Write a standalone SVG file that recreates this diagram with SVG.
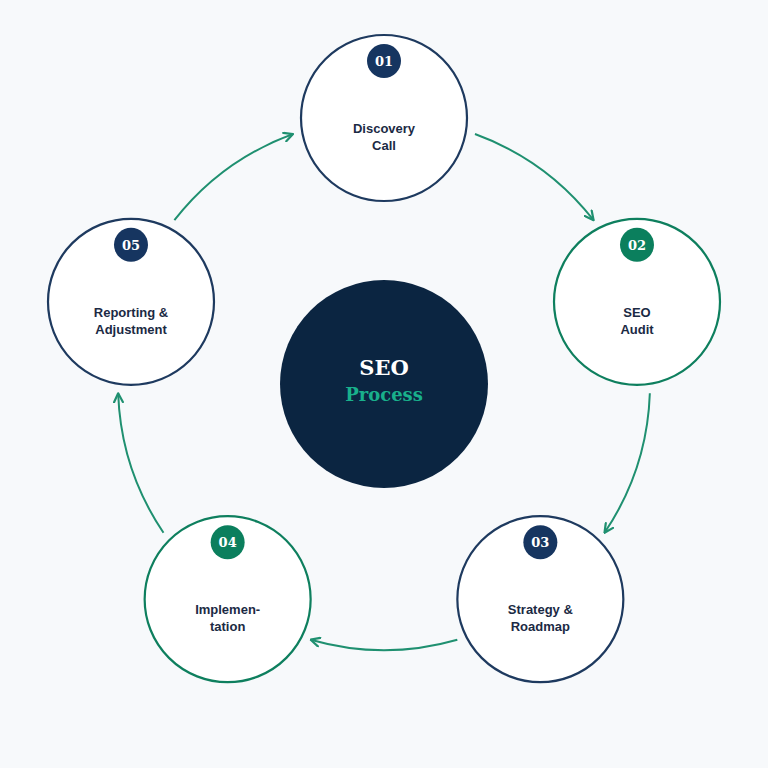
<svg xmlns="http://www.w3.org/2000/svg" width="768" height="768" viewBox="0 0 768 768">
<style>
.node{fill:#ffffff;stroke-width:2.2}
.navy{stroke:#1e3a5f}
.green{stroke:#0e7f5e}
.bnavy{fill:#163560}
.bgreen{fill:#0b7f5d}
.num{font-family:"DejaVu Serif",serif;font-weight:bold;font-size:13px;fill:#ffffff;text-anchor:middle}
.lbl{font-family:"Liberation Sans",Arial,sans-serif;font-weight:bold;font-size:13px;fill:#1b2a44;text-anchor:middle}
.arc{fill:none;stroke:#1f9070;stroke-width:2;marker-end:url(#ah)}
</style>
<defs>
<marker id="ah" viewBox="0 0 10 10" refX="9" refY="5" markerWidth="11" markerHeight="11" markerUnits="userSpaceOnUse" orient="auto">
<path d="M1,1 L9,5 L1,9" fill="none" stroke="#1f9070" stroke-width="2" stroke-linecap="round" stroke-linejoin="round"/>
</marker>
</defs>
<rect width="768" height="768" fill="#f7f9fb"/>
<g id="connectors">
<path class="arc" d="M474.97,134.04 A266,266 0 0 1 593.62,220.23"/>
<path class="arc" d="M649.84,393.28 A266,266 0 0 1 604.52,532.75"/>
<path class="arc" d="M457.32,639.69 A266,266 0 0 1 310.68,639.69"/>
<path class="arc" d="M163.48,532.75 A266,266 0 0 1 118.16,393.28"/>
<path class="arc" d="M174.38,220.23 A266,266 0 0 1 293.03,134.04"/>
</g>
<g id="center">
<circle cx="384" cy="384" r="104" fill="#0b2541"/>
<text x="384" y="375" font-family="DejaVu Serif,serif" font-weight="bold" font-size="21" fill="#ffffff" text-anchor="middle">SEO</text>
<text x="384" y="401" font-family="DejaVu Serif,serif" font-weight="bold" font-size="18" fill="#19b08b" text-anchor="middle">Process</text>
</g>
<g id="node01">
<circle class="node navy" cx="384" cy="118" r="83"/>
<circle class="bnavy" cx="384" cy="61" r="17"/>
<text class="num" x="384" y="66">01</text>
<text class="lbl" x="384" y="133">Discovery</text>
<text class="lbl" x="384" y="150">Call</text>
</g>
<g id="node02">
<circle class="node green" cx="637" cy="301.8" r="83"/>
<circle class="bgreen" cx="637" cy="244.8" r="17"/>
<text class="num" x="637" y="249.8">02</text>
<text class="lbl" x="637" y="316.8">SEO</text>
<text class="lbl" x="637" y="333.8">Audit</text>
</g>
<g id="node03">
<circle class="node navy" cx="540.35" cy="599.2" r="83"/>
<circle class="bnavy" cx="540.35" cy="542.2" r="17"/>
<text class="num" x="540.35" y="547.2">03</text>
<text class="lbl" x="540.35" y="614.2">Strategy &amp;</text>
<text class="lbl" x="540.35" y="631.2">Roadmap</text>
</g>
<g id="node04">
<circle class="node green" cx="227.65" cy="599.2" r="83"/>
<circle class="bgreen" cx="227.65" cy="542.2" r="17"/>
<text class="num" x="227.65" y="547.2">04</text>
<text class="lbl" x="227.65" y="614.2">Implemen-</text>
<text class="lbl" x="227.65" y="631.2">tation</text>
</g>
<g id="node05">
<circle class="node navy" cx="131" cy="301.8" r="83"/>
<circle class="bnavy" cx="131" cy="244.8" r="17"/>
<text class="num" x="131" y="249.8">05</text>
<text class="lbl" x="131" y="316.8">Reporting &amp;</text>
<text class="lbl" x="131" y="333.8">Adjustment</text>
</g>
</svg>
